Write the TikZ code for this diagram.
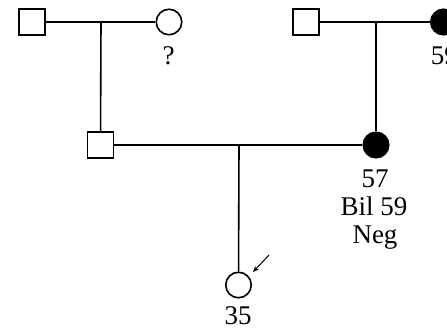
\documentclass[tikz,border=0pt]{standalone}
\usepackage{fontspec}
\setmainfont{Liberation Serif}
\usetikzlibrary{arrows.meta}
\begin{document}
\begin{tikzpicture}[x=1pt,y=-1pt,
  line width=1.6pt,
  male/.style={draw, fill=white, minimum size=26pt, inner sep=0pt},
  female/.style={circle, draw, fill=white, minimum size=25.5pt, inner sep=0pt},
  affected/.style={female, fill=black},
  lab/.style={font=\fontsize{27}{28}\selectfont, inner sep=0pt, anchor=base}]
\useasboundingbox (0,0) rectangle (447,329);
% generation I left
\node[male] (gpL) at (32,22) {};
\node[female] (gmL) at (169,22) {};
\node[lab] (qL) at (168.5,65) {?};
\draw (gpL) -- (gmL);
\coordinate (mL) at (101,22);
% generation I right
\node[male] (gpR) at (306,22) {};
\node[affected] (gmR) at (443.5,22) {};
\node[lab, anchor=base west] (aR) at (430,65) {59};
\draw (gpR) -- (gmR);
\coordinate (mR) at (376,22);
% generation II
\node[male] (fa) at (100.5,145) {};
\node[affected] (mo) at (376,145) {};
\draw (mL) -- (fa);
\draw (mR) -- (mo);
\draw (fa) -- (mo);
\node[lab] (moA) at (375,187) {57};
\node[lab] (moB) at (374,215) {Bil 59};
\node[lab] (moC) at (375,243) {Neg};
\coordinate (mC) at (239,145);
% generation III
\node[female] (pr) at (238.5,285) {};
\draw (mC) -- (pr);
\node[lab] (prL) at (238,324) {35};
\coordinate (a0) at (269,255);
\coordinate (a1) at (253,272);
\draw[line width=1pt, -{Stealth[length=6pt,width=5pt]}] (a0) -- (a1);
\end{tikzpicture}
\end{document}
